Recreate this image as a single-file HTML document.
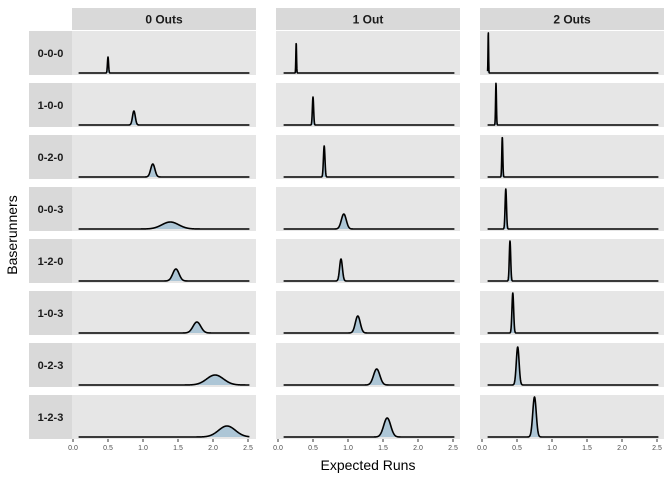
<!DOCTYPE html>
<html><head><meta charset="utf-8">
<style>
body{margin:0;background:#fff;}
svg{display:block;font-family:"Liberation Sans",Arial,sans-serif;}
</style></head>
<body>
<svg id="chart" width="672" height="480" viewBox="0 0 672 480"></svg>
<script>
const outsLabels = ["0 Outs","1 Out","2 Outs"];
const runnerLabels = ["0-0-0","1-0-0","0-2-0","0-0-3","1-2-0","1-0-3","0-2-3","1-2-3"];
const xTicks = [0,0.5,1,1.5,2,2.5];
const xTickLabels = ["0.0","0.5","1.0","1.5","2.0","2.5"];
// density means per column (outs) and row (runners)
const means0 = [0.50,0.87,1.14,1.39,1.47,1.77,2.03,2.20];
const means1 = [0.26,0.50,0.66,0.94,0.90,1.14,1.41,1.56];
const means2 = [0.09,0.20,0.29,0.34,0.40,0.44,0.51,0.75];
const sds0 = [0.008,0.02,0.03,0.12,0.045,0.055,0.12,0.12];
const sds1 = [0.005,0.009,0.011,0.035,0.02,0.035,0.045,0.05];
const sds2 = [0.004,0.006,0.007,0.01,0.01,0.012,0.02,0.025];
const heights0 = [16,14,13,7,12,11,10,11];
const heights1 = [30,28,31,15,22,17,16,19];
const heights2 = [41,42,40,40,40,40,38,40];
const xMin = 0.08, xMax = 2.52;

const svg = document.getElementById('chart');
const NS = 'http://www.w3.org/2000/svg';
function mk(tag, attrs, parent){const e=document.createElementNS(NS,tag);for(const k in attrs)e.setAttribute(k,attrs[k]);(parent||svg).appendChild(e);return e;}

const colX = [72,276,480], colW = 184;
const zeroX = [73,278,482], pxPerUnit = 70;
const rowY0 = 31, rowH = 44, rowStep = 52;
const means=[means0,means1,means2], sds=[sds0,sds1,sds2], hts=[heights0,heights1,heights2];

for(let c=0;c<3;c++){
  const s=mk('rect',{x:colX[c],y:8,width:colW,height:22,fill:'#d9d9d9'});
  
  
  const t=mk('text',{x:colX[c]+colW/2,y:23.5,'text-anchor':'middle','font-size':'12','font-weight':'bold',fill:'#1a1a1a'});
  t.textContent=outsLabels[c];
  
  
}
for(let r=0;r<8;r++){
  const y=rowY0+r*rowStep;
  const s=mk('rect',{x:29,y:y,width:43,height:rowH,fill:'#d9d9d9'});
  
  
  const t=mk('text',{x:50.5,y:y+rowH/2+4,'text-anchor':'middle','font-size':'11','font-weight':'bold',fill:'#1a1a1a'});
  t.textContent=runnerLabels[r];
  
  
  for(let c=0;c<3;c++){
    const p=mk('rect',{x:colX[c],y:y,width:colW,height:rowH,fill:'#e6e6e6'});
    
    
    const base=y+rowH-2;
    const xs=v=>zeroX[c]+v*pxPerUnit;
    const m=means[c][r], sd=sds[c][r], h=hts[c][r];
    const N=900;
    let d='';
    for(let i=0;i<=N;i++){
      const v=xMin+(xMax-xMin)*i/N;
      const z=(v-m)/sd;
      const yy=base-h*Math.exp(-0.5*z*z);
      d+=(i?'L':'M')+xs(v).toFixed(2)+','+yy.toFixed(2);
    }
    const area=mk('path',{d:d+'L'+xs(xMax)+','+base+'L'+xs(xMin)+','+base+'Z',fill:'#adc6d6',stroke:'none'});
    
    
    const line=mk('path',{d:d,fill:'none',stroke:'#000','stroke-width':'1.6','stroke-linejoin':'round'});
    
    
  }
}
const axY=rowY0+7*rowStep+rowH;
for(let c=0;c<3;c++){
  xTicks.forEach((v,i)=>{
    const x=zeroX[c]+v*pxPerUnit;
    const tk=mk('line',{x1:x,x2:x,y1:axY,y2:axY+3,stroke:'#333','stroke-width':'1'});
    
    
    const t=mk('text',{x:x,y:axY+11,'text-anchor':'middle','font-size':'7',fill:'#4d4d4d'});
    t.textContent=xTickLabels[i];
    
    
  });
}
const xt=mk('text',{x:368,y:470,'text-anchor':'middle','font-size':'14',fill:'#000'});
xt.textContent='Expected Runs';


const yt=mk('text',{x:0,y:0,'text-anchor':'middle','font-size':'14',fill:'#000',transform:'translate(17,235) rotate(-90)'});
yt.textContent='Baserunners';


</script>
</body></html>
